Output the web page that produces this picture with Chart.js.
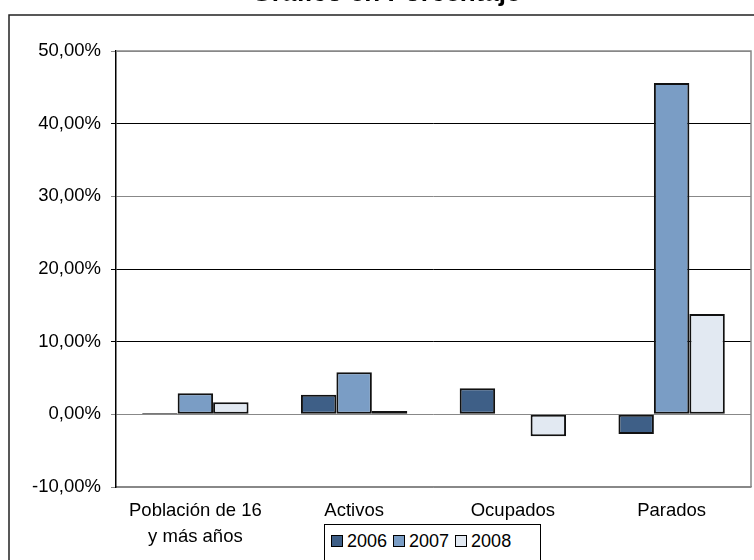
<!DOCTYPE html>
<html>
<head>
<meta charset="utf-8">
<script src="https://cdn.jsdelivr.net/npm/chart.js@4.4.1/dist/chart.umd.min.js"></script>
<style>
  html, body { margin: 0; padding: 0; background: #fff; }
  #wrap { position: relative; width: 754px; height: 560px; overflow: hidden; }
  #leyenda {
    position: absolute; left: 324px; top: 524px; width: 217px; height: 60px;
    border: 1px solid #000; box-sizing: border-box; background: #fff;
    font: 18px "Liberation Sans", Arial, sans-serif; color: #000;
    padding: 6px 0 0 6px; white-space: nowrap;
  }
  #leyenda span.item { margin-right: 6px; }
  #leyenda span.caja {
    display: inline-block; width: 10px; height: 10px; border: 1px solid #000;
    margin-right: 4px; vertical-align: 0px;
  }
</style>
</head>
<body>
<div id="wrap">
  <canvas id="GraficoPorcentaje" width="754" height="560"></canvas>
  <div id="leyenda"></div>
</div>
<script>
/* Datos del gráfico */
var categorias = [['Población de 16', 'y más años'], 'Activos', 'Ocupados', 'Parados'];
var anios = ['2006', '2007', '2008'];
var valores2006 = [0.2, 2.7, 3.6, -2.7];
var valores2007 = [2.9, 5.8, null, 45.6];
var valores2008 = [1.65, 0.45, -3.0, 13.8];
var colores = ['#3e5f87', '#7a9dc5', '#e2e9f2'];
var ticksY = [-10, 0, 10, 20, 30, 40, 50];

var fuente = { family: '"Liberation Sans", Arial, sans-serif', size: 18.5, lineHeight: 1.4 };

/* Marco exterior y título (cortado arriba, como en el original) */
var marco = {
    id: 'marco',
    beforeDraw: function (chart) {
        var c = chart.ctx;
        c.save();
        c.fillStyle = '#fff';
        c.fillRect(0, 0, chart.width, chart.height);
        c.strokeStyle = '#222';
        c.lineWidth = 1.5;
        c.strokeRect(9, 15, 800, 600);
        c.fillStyle = '#000';
        c.font = 'bold 26px "Liberation Sans", Arial, sans-serif';
        c.textAlign = 'center';
        c.textBaseline = 'alphabetic';
        c.fillText('Gráfico en Porcentaje', 386, 1);
        c.restore();
    },
    afterDatasetsDraw: function (chart) {
        var a = chart.chartArea;
        var c = chart.ctx;
        c.save();
        c.strokeStyle = '#888';
        c.lineWidth = 1.5;
        c.beginPath();
        c.moveTo(a.left, a.top);
        c.lineTo(a.right, a.top);
        c.lineTo(a.right, a.bottom);
        c.stroke();
        c.restore();
    }
};

var ctx = document.getElementById('GraficoPorcentaje').getContext('2d');

var grafico = new Chart(ctx, {
    type: 'bar',
    data: {
        labels: categorias,
        datasets: [
            { label: anios[0], data: valores2006, backgroundColor: colores[0] },
            { label: anios[1], data: valores2007, backgroundColor: colores[1] },
            { label: anios[2], data: valores2008, backgroundColor: colores[2] }
        ]
    },
    options: {
        responsive: false,
        animation: false,
        layout: { padding: { left: 0, top: 51, right: 3, bottom: 0 } },
        datasets: {
            bar: {
                categoryPercentage: 0.67,
                barPercentage: 1.0,
                borderColor: '#111',
                borderWidth: 2,
                borderSkipped: false
            }
        },
        plugins: {
            legend: { display: false },
            title: { display: false },
            tooltip: { enabled: false }
        },
        scales: {
            x: {
                grid: { display: false },
                border: { display: true, color: '#888', width: 1.5 },
                ticks: { color: '#000', font: fuente, padding: 3, maxRotation: 0, autoSkip: false },
                afterFit: function (scale) { scale.height = 73; }
            },
            y: {
                min: -10,
                max: 50,
                afterBuildTicks: function (scale) {
                    scale.ticks = ticksY.map(function (v) { return { value: v }; });
                },
                grid: {
                    color: function (c) {
                        var v = c.tick ? c.tick.value : 0;
                        return (v === 50 || v === 30 || v === 0 || v === -10) ? '#888' : '#000';
                    },
                    lineWidth: 1,
                    tickLength: 5
                },
                border: { display: true, color: '#000', width: 1.5 },
                ticks: {
                    color: '#000',
                    font: fuente,
                    padding: 10,
                    callback: function (v) { return v.toFixed(2).replace('.', ',') + '%'; }
                },
                afterFit: function (scale) { scale.width = 116; }
            }
        }
    },
    plugins: [marco]
});

/* Leyenda en HTML, a partir de los mismos arreglos */
var html = '';
for (var i = 0; i < anios.length; i++) {
    html += '<span class="item"><span class="caja" style="background:' + colores[i] + '"></span>' + anios[i] + '</span>';
}
document.getElementById('leyenda').innerHTML = html;
</script>
</body>
</html>
